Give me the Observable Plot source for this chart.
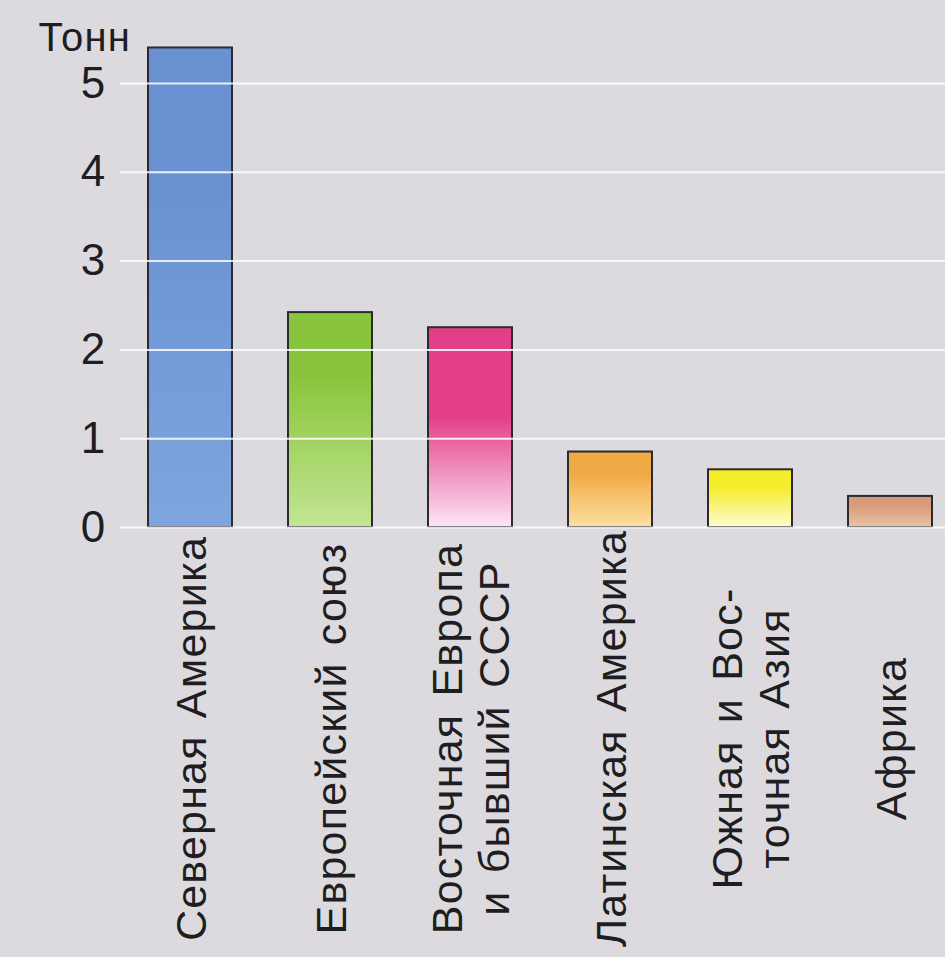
<!DOCTYPE html>
<html>
<head>
<meta charset="utf-8">
<script src="https://cdn.jsdelivr.net/npm/d3@7"></script>
<script src="https://cdn.jsdelivr.net/npm/@observablehq/plot@0.6"></script>
<style>
  html, body { margin: 0; padding: 0; background: #dddadf; }
  #chart { width: 945px; height: 957px; }
  #chart svg text { letter-spacing: 1.2px; word-spacing: 4px; }
</style>
</head>
<body>
<div id="chart"></div>
<script>
// Data
const categories = [
  "Северная Америка",
  "Европейский союз",
  "Восточная Европа\nи бывший СССР",
  "Латинская Америка",
  "Южная и Вос-\nточная Азия",
  "Африка"
];
const values = [5.4, 2.42, 2.25, 0.85, 0.65, 0.35];
const yTicks = [0, 1, 2, 3, 4, 5];
const unitLabel = "Тонн";

// Styles (gradient top / bottom colours per bar)
const topColors = ["#6a92d3", "#89c53c", "#e33f88", "#f0aa45", "#f5ec2a", "#d79b7a"];
const bottomColors = ["#7ea5de", "#c2e593", "#fde6f6", "#fde0a3", "#fdfcce", "#ecc3a6"];

const data = categories.map((c, i) => ({category: c, value: values[i], grad: `url(#grad${i})`}));

function defs() {
  const d = d3.create("svg:defs");
  categories.forEach((c, i) => {
    const g = d.append("linearGradient")
      .attr("id", `grad${i}`)
      .attr("x1", 0).attr("y1", 0).attr("x2", 0).attr("y2", 1);
    g.append("stop").attr("offset", "0%").attr("stop-color", topColors[i]);
    g.append("stop").attr("offset", i === 2 ? "45%" : "30%").attr("stop-color", topColors[i]);
    g.append("stop").attr("offset", "100%").attr("stop-color", bottomColors[i]);
  });
  return d.node();
}

const chart = Plot.plot({
  width: 945,
  height: 957,
  marginLeft: 120,
  marginRight: 0,
  marginTop: 0,
  marginBottom: 430,
  style: {
    fontFamily: "'Liberation Sans', Arial, sans-serif",
    background: "#dddadf",
    color: "#1e1e22"
  },
  x: {domain: categories, range: [120, 960], paddingInner: 0.4, paddingOuter: 0.2, align: 0.5, label: null, axis: null},
  y: {domain: [0, 5], range: [527, 83], label: null},
  color: {type: "identity"},
  marks: [
    defs,
    Plot.barY(data, {x: "category", y: "value", fill: "grad", stroke: "#2a2a30", strokeWidth: 2}),
    Plot.ruleY(yTicks, {stroke: "#ffffff", strokeWidth: 2, strokeOpacity: 0.85}),
    Plot.axisY({ticks: yTicks, tickFormat: d3.format("d"), tickSize: 0, tickPadding: 14, fontSize: 44, label: null}),
    Plot.text(categories, {
      x: d => d, text: d => d,
      frameAnchor: "bottom", dy: 211,
      rotate: -90, textAnchor: "middle", lineAnchor: "middle",
      lineHeight: 1.1, fontSize: 43, fill: "#1e1e22"
    }),
    Plot.text([unitLabel], {frameAnchor: "top-left", dx: -82, dy: 50, text: d => d, textAnchor: "start", lineAnchor: "bottom", fontSize: 40, fill: "#1e1e22"})
  ]
});
document.getElementById("chart").appendChild(chart);
</script>
</body>
</html>
